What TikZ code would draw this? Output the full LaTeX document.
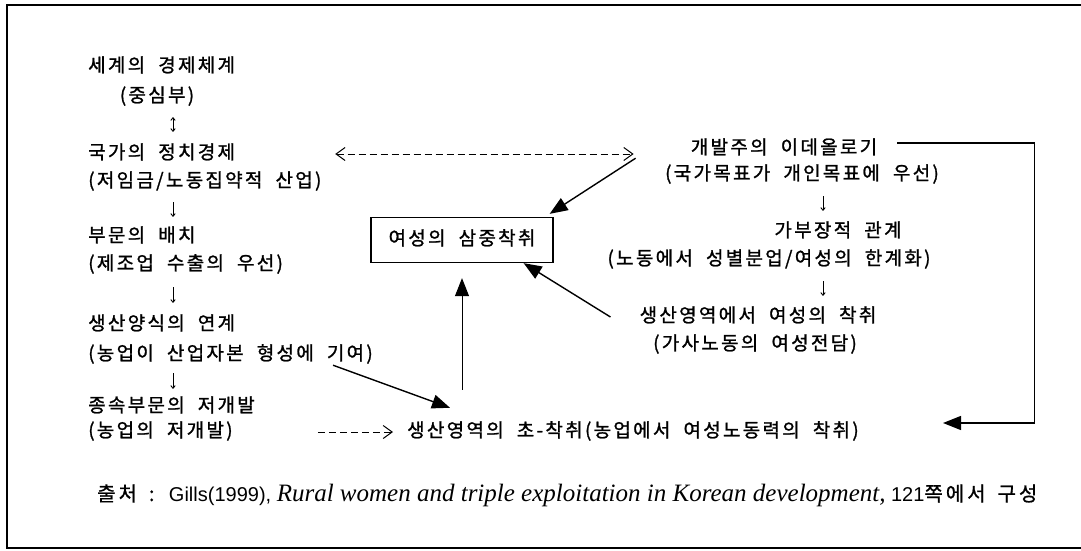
\documentclass[tikz,border=0pt]{standalone}
\usepackage{fontspec}
\setmainfont{Noto Sans CJK KR}[LetterSpace=12,WordSpace=2,FakeBold=1.2]
\newfontfamily\srcfont{Noto Sans CJK KR}[LetterSpace=15,WordSpace=1.6,FakeBold=1]
\newfontfamily\latfont{Liberation Sans}
\newfontfamily\ttlfont{Liberation Serif}
\usetikzlibrary{arrows.meta}

\begin{document}
\begin{tikzpicture}[x=1pt,y=-1pt,
  txt/.style={inner sep=0pt,text height=14pt,text depth=4pt,font=\fontsize{19}{22}\selectfont},
  lft/.style={txt,anchor=west},
  tri/.style={-{Triangle[length=18pt,width=14pt]},line width=1.4pt},
  tick/.tip={To[length=3.5pt,width=5pt]},
  stub/.style={-tick,line width=0.9pt},
  barb/.tip={Straight Barb[length=9pt,width=13pt,line width=1pt]},
  dsh/.style={dash pattern=on 7pt off 4pt,line width=1pt,barb-barb}]
\useasboundingbox (0,0) rectangle (1081,550);
% frame
\draw[line width=1.5pt] (1085,5) -- (7,5) -- (7,548) -- (1085,548);

% left column
\node[lft] (w1) at (88,67) {세계의 경제체계};
\node[txt] (w2) at (157,97) {(중심부)};
\node[lft] (w3) at (88,154) {국가의 정치경제};
\node[lft] (w4) at (88,182) {(저임금/노동집약적 산업)};
\node[lft] (w5) at (88,237) {부문의 배치};
\node[lft] (w6) at (88,265) {(제조업 수출의 우선)};
\node[lft] (w7) at (88,325) {생산양식의 연계};
\node[lft] (w8) at (88,355) {(농업이 산업자본 형성에 기여)};
\node[lft] (w9) at (88,407) {종속부문의 저개발};
\node[lft] (w10) at (88,432) {(농업의 저개발)};
\coordinate (la) at (173,0);

% centre box
\node[txt,draw,line width=1.3pt,minimum width=182pt,minimum height=45pt] (box) at (462,240) {여성의 삼중착취};

% right column
\node[txt] (r1) at (784,149) {개발주의 이데올로기};
\node[txt] (r2) at (802,175) {(국가목표가 개인목표에 우선)};
\node[txt] (r3) at (838,232) {가부장적 관계};
\node[txt] (r4) at (769,260) {(노동에서 성별분업/여성의 한계화)};
\node[txt] (r5) at (758,317) {생산영역에서 여성의 착취};
\node[txt] (r6) at (755,345) {(가사노동의 여성전담)};
\coordinate (ra) at (823,0);

% bottom line
\node[lft] (b1) at (407,432) {생산영역의 초-착취(농업에서 여성노동력의 착취)};
\coordinate (lt) at (943,423);
\node[anchor=west,inner sep=0pt] (src) at (97,495)
  {\fontsize{20}{22}\selectfont\srcfont 출처 : \latfont Gills(1999), {\ttlfont\itshape\fontsize{25}{26}\selectfont Rural women and triple exploitation in Korean development,} \latfont 121\srcfont 쪽에서 구성};

% small arrows
\draw[stub,tick-tick,shorten <=11pt,shorten >=13pt] (w2.south -| la) -- (w3.north -| la);
\draw[stub,shorten <=11pt,shorten >=11pt] (w4.south -| la) -- (w5.north -| la);
\draw[stub,shorten <=13pt,shorten >=13pt] (w6.south -| la) -- (w7.north -| la);
\draw[stub,shorten <=9pt,shorten >=9pt] (w8.south -| la) -- (w9.north -| la);
\draw[stub,shorten <=12pt,shorten >=12pt] (r2.south -| ra) -- (r3.north -| ra);
\draw[stub,shorten <=12pt,shorten >=12pt] (r4.south -| ra) -- (r5.north -| ra);

% dashed links
\draw[dsh,shorten <=100pt,shorten >=57pt] (w3.east) -- (w3.east -| r1.west);
\draw[dsh,-barb,shorten <=85pt,shorten >=14pt] (w10.east) -- (w10.east -| b1.west);

% solid arrows
\draw[tri] ([xshift=-55pt]r1.south west) -- ([xshift=-4pt,yshift=3pt]box.north east);
\draw[tri] ([xshift=-29pt]r5.west) -- ([xshift=-30pt]box.south east);
\draw[tri,line width=1pt,shorten <=33pt,shorten >=15pt] (box.south |- b1.north) -- (box.south);
\draw[tri] ([xshift=-40pt,yshift=-1pt]w8.south east) -- ([xshift=43pt,yshift=15pt]b1.north west);
\draw[tri,line width=1.3pt] ([xshift=20pt,yshift=6pt]r1.east) -- ++(137,0) |- (lt);
\end{tikzpicture}
\end{document}
